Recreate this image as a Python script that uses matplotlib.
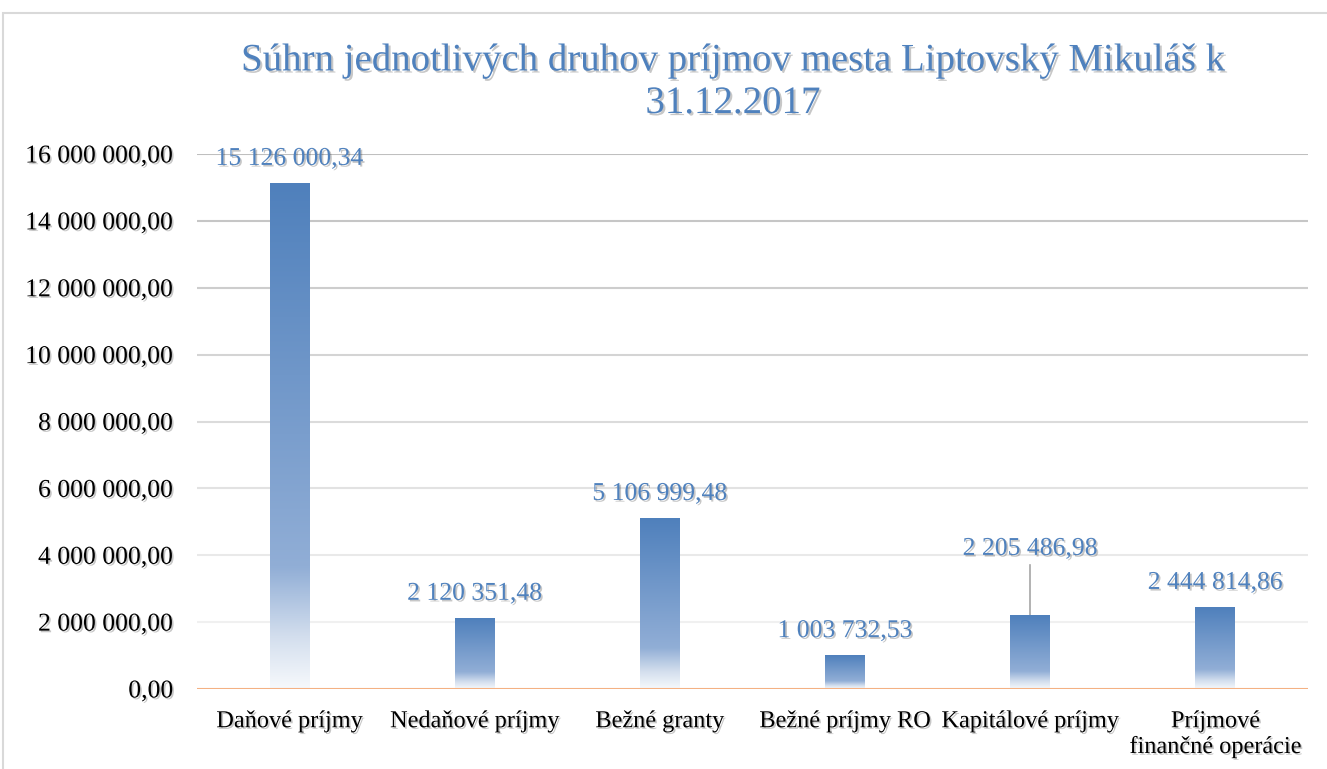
import matplotlib
matplotlib.use("Agg")
import matplotlib.pyplot as plt
import matplotlib.patheffects as pe
from matplotlib.colors import LinearSegmentedColormap
from matplotlib.patches import Rectangle
from matplotlib.ticker import FuncFormatter
import numpy as np

categories = ["Daňové príjmy", "Nedaňové príjmy", "Bežné granty",
              "Bežné príjmy RO", "Kapitálové príjmy", "Príjmové\nfinančné operácie"]
values = [15126000.34, 2120351.48, 5106999.48, 1003732.53, 2205486.98, 2444814.86]
yticks = [0, 2e6, 4e6, 6e6, 8e6, 10e6, 12e6, 14e6, 16e6]
title = "Súhrn jednotlivých druhov príjmov mesta Liptovský Mikuláš k\n31.12.2017"

BLUE = "#4F81BD"
FONT = ["Liberation Serif", "DejaVu Serif"]
plt.rcParams["font.family"] = FONT


def fmt(v, pos=None):
    s = f"{v:,.2f}"
    return s.replace(",", " ").replace(".", ",")


shadow = [pe.SimplePatchShadow(offset=(1.2, -1.2), shadow_rgbFace="k", alpha=0.22), pe.Normal()]

fig = plt.figure(figsize=(13.27, 7.69), dpi=100)
# outer frame
fig.patches.append(Rectangle((3 / 1327, -0.1), 1.2, (769 - 13) / 769 + 0.1,
                             transform=fig.transFigure, fill=False,
                             edgecolor="#D9D9D9", linewidth=1.5))

ax = fig.add_axes([197 / 1327, 80 / 769, (1308 - 197) / 1327, (689 - 154) / 769])
ax.set_xlim(-0.5, len(categories) - 0.5)
ax.set_ylim(0, 16e6)
for s in ax.spines.values():
    s.set_visible(False)

# gridlines with fading grey
for i, t in enumerate(yticks[1:]):
    frac = i / (len(yticks) - 2)
    g = 0.94 - 0.19 * frac
    ax.axhline(t, color=(g, g, g), linewidth=1.5, zorder=0)
ax.axhline(0, color="#F4B183", linewidth=1.5, zorder=3)

cmap = LinearSegmentedColormap.from_list(
    "grad",
    [(0.0, (79/255, 128/255, 188/255)),
     (0.76, (145/255, 174/255, 214/255)),
     (0.9, (212/255, 223/255, 238/255)),
     (1.0, (246/255, 249/255, 252/255))])
grad = np.linspace(0, 1, 256).reshape(-1, 1)

width = 0.216
x = np.arange(len(categories))
bars = ax.bar(x, values, width=width, color="none", zorder=2)
for b, v in zip(bars, values):
    im = ax.imshow(grad, cmap=cmap, aspect="auto", origin="upper",
                   extent=[b.get_x(), b.get_x() + b.get_width(), 0, v], zorder=2)
    im.set_clip_path(b)

# data labels
for i, v in enumerate(values):
    if i == 4:
        label_y = 4.19e6
        ax.plot([i, i], [v, 3.72e6], color="#A6A6A6", linewidth=1.2, zorder=1)
        ax.text(i, label_y, fmt(v), ha="center", va="center", fontsize=18.5,
                color=BLUE, path_effects=shadow)
    else:
        ax.annotate(fmt(v), (i, v), xytext=(0, 17.5), textcoords="offset points",
                    ha="center", va="center", fontsize=18.5, color=BLUE,
                    path_effects=shadow)

ax.set_yticks(yticks)
ax.yaxis.set_major_formatter(FuncFormatter(fmt))
ax.set_xticks(x)
ax.set_xticklabels(categories, linespacing=1.3)
ax.tick_params(axis="y", length=0, pad=17, labelsize=18.5)
ax.tick_params(axis="x", length=0, pad=16, labelsize=17.5)
for lab in ax.get_yticklabels() + ax.get_xticklabels():
    lab.set_path_effects(shadow)

fig.text(733 / 1327, 1 - 82 / 769, title, ha="center", va="center",
         fontsize=28, color=BLUE, linespacing=1.2,
         path_effects=[pe.SimplePatchShadow(offset=(1.5, -1.5), shadow_rgbFace="k", alpha=0.22), pe.Normal()])

fig.savefig("out.png", dpi=100)
